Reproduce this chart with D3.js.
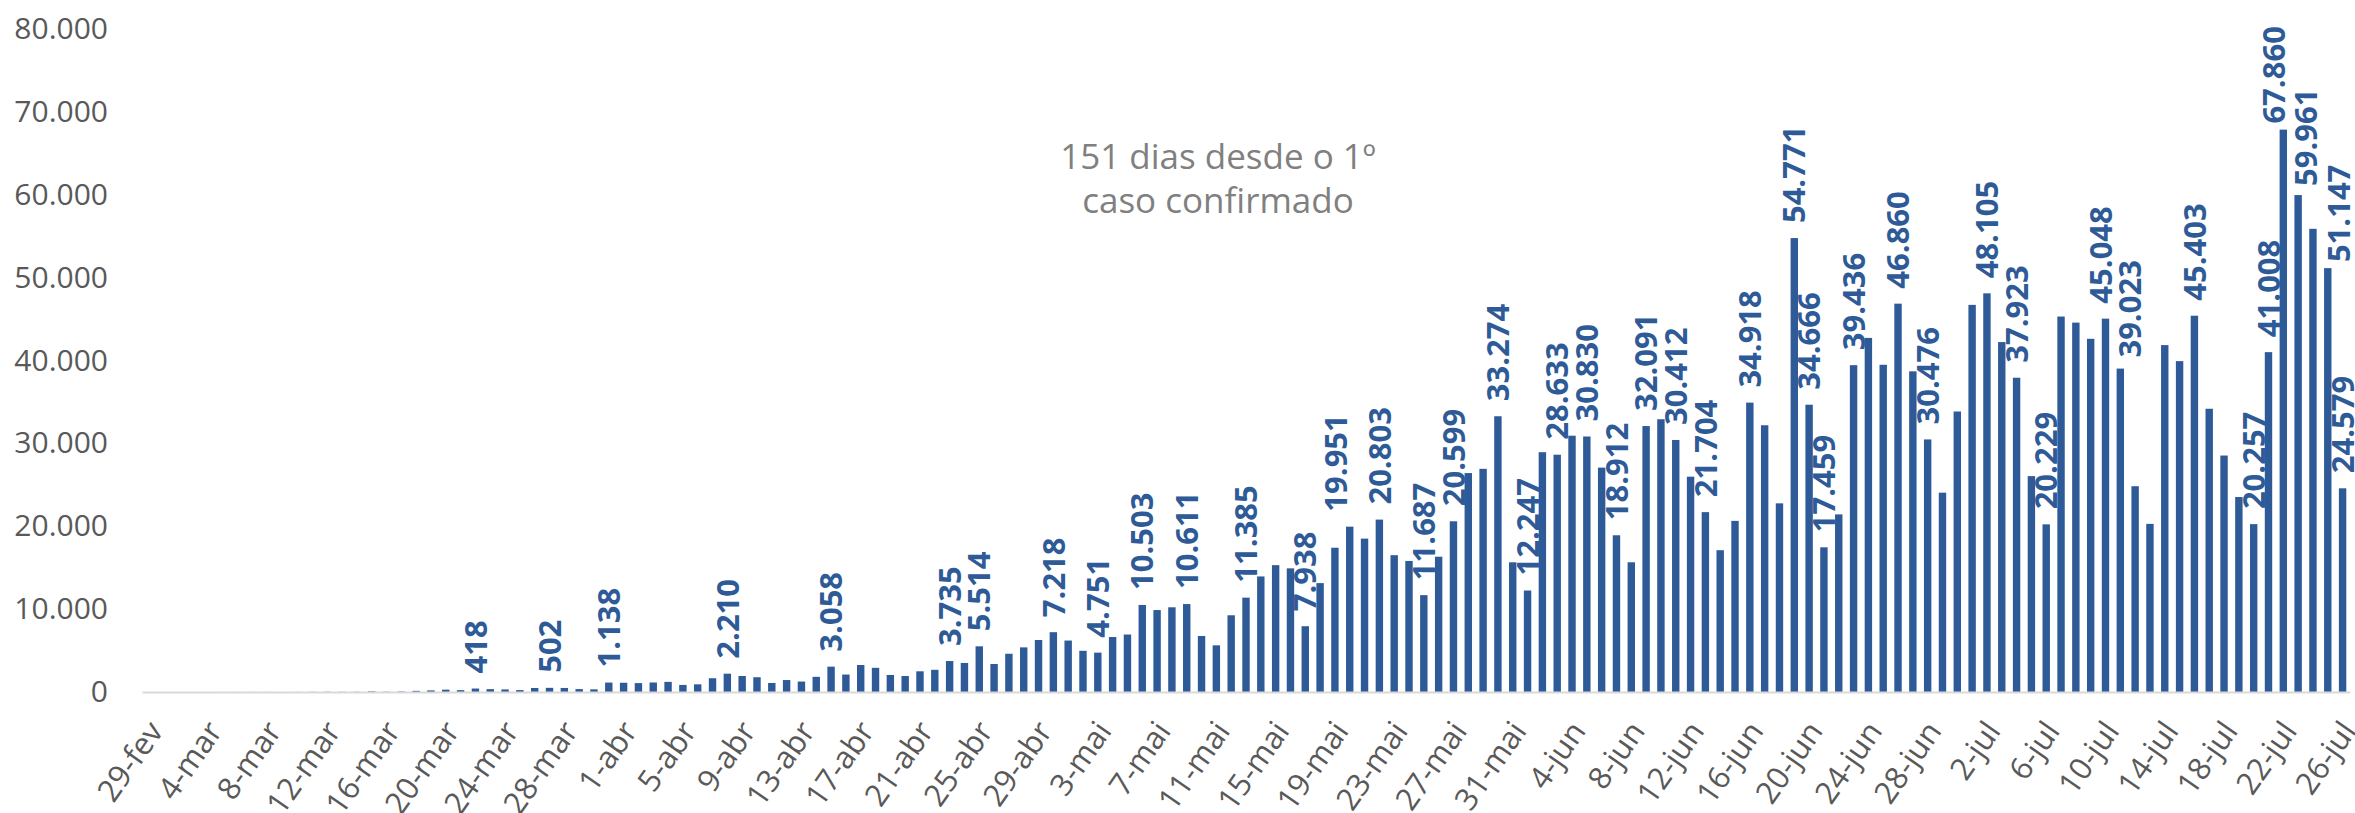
<!DOCTYPE html>
<html>
<head>
<meta charset="utf-8">
<script src="https://cdn.jsdelivr.net/npm/d3@7"></script>
<style>
  body { margin: 0; background: #fff; }
  svg { display: block; font-family: "Open Sans", sans-serif; }
</style>
</head>
<body>
<script>
// Casos novos por dia - Brasil (29-fev a 26-jul)

// ============================================
// DATA
// ============================================
const monthNames = ["jan", "fev", "mar", "abr", "mai", "jun", "jul"];
const days = d3.timeDay.range(new Date(2020, 1, 29), new Date(2020, 6, 27))
  .map(d => `${d.getDate()}-${monthNames[d.getMonth()]}`);

const casesFeb = [1];
const casesMar = [0, 0, 0, 1, 5, 5, 6, 6, 0, 9, 18, 25, 21, 23, 79, 34, 57, 137, 193, 283,
  224, 418, 345, 310, 232, 482, 502, 487, 352, 323, 1138];
const casesApr = [1117, 1074, 1146, 1222, 852, 926, 1661, 2210, 1930, 1781, 1089, 1442, 1261,
  1832, 3058, 2105, 3257, 2917, 2055, 1927, 2498, 2678, 3735, 3503, 5514, 3379, 4613, 5385,
  6276, 7218];
const casesMay = [6209, 4970, 4751, 6633, 6935, 10503, 9888, 10222, 10611, 6760, 5632, 9258,
  11385, 13944, 15305, 14919, 7938, 13140, 17408, 19951, 18508, 20803, 16508, 15813, 11687,
  16324, 20599, 26417, 26928, 33274, 15650];
const casesJun = [12247, 28936, 28633, 30925, 30830, 27075, 18912, 15654, 32091, 32913, 30412,
  25982, 21704, 17110, 20647, 34918, 32188, 22765, 54771, 34666, 17459, 21432, 39436, 42725,
  39483, 46860, 38693, 30476, 24052, 33846];
const casesJul = [46712, 48105, 42223, 37923, 26051, 20229, 45305, 44571, 42619, 45048, 39023,
  24831, 20286, 41857, 39924, 45403, 34177, 28532, 23529, 20257, 41008, 67860, 59961, 55891,
  51147, 24579];

const cases = [...casesFeb, ...casesMar, ...casesApr, ...casesMay, ...casesJun, ...casesJul];

// days that carry a value label
const labeledDays = ["22-mar", "27-mar", "31-mar", "8-abr", "15-abr", "23-abr", "25-abr",
  "30-abr", "3-mai", "6-mai", "9-mai", "13-mai", "17-mai", "20-mai", "22-mai", "25-mai",
  "27-mai", "30-mai", "1-jun", "3-jun", "5-jun", "7-jun", "9-jun", "11-jun", "13-jun",
  "16-jun", "19-jun", "20-jun", "21-jun", "23-jun", "26-jun", "28-jun", "2-jul", "4-jul",
  "6-jul", "10-jul", "11-jul", "16-jul", "20-jul", "21-jul", "22-jul", "23-jul", "25-jul",
  "26-jul"];

const tickLabels = ["29-fev", "4-mar", "8-mar", "12-mar", "16-mar", "20-mar", "24-mar",
  "28-mar", "1-abr", "5-abr", "9-abr", "13-abr", "17-abr", "21-abr", "25-abr", "29-abr",
  "3-mai", "7-mai", "11-mai", "15-mai", "19-mai", "23-mai", "27-mai", "31-mai", "4-jun",
  "8-jun", "12-jun", "16-jun", "20-jun", "24-jun", "28-jun", "2-jul", "6-jul", "10-jul",
  "14-jul", "18-jul", "22-jul", "26-jul"];

const yTicks = [0, 10000, 20000, 30000, 40000, 50000, 60000, 70000, 80000];

const note = ["151 dias desde o 1º", "caso confirmado"];

const data = days.map((d, i) => ({ day: d, value: cases[i] }));

// ============================================
// CHART
// ============================================
const W = 2355, H = 813;
const blue = "#2e5b97";

const svg = d3.select("body").append("svg")
  .attr("width", W)
  .attr("height", H);

const x = d3.scaleBand()
  .domain(days)
  .range([142, 2350])
  .paddingInner(0.5)
  .paddingOuter(0.25);

const y = d3.scaleLinear()
  .domain([0, 80000])
  .range([692, 29]);

const fmt = d3.formatLocale({ decimal: ",", thousands: ".", grouping: [3], currency: ["R$", ""] })
  .format(",d");

// Y axis (labels only)
const yAxis = svg.append("g")
  .attr("transform", "translate(142,0)")
  .call(d3.axisLeft(y).tickValues(yTicks).tickFormat(fmt).tickSize(0).tickPadding(34));
yAxis.select(".domain").remove();
yAxis.selectAll("text")
  .attr("font-size", 30)
  .attr("font-family", "Open Sans")
  .attr("fill", "#595959");

// Bars
svg.selectAll(".bar")
  .data(data)
  .enter()
  .append("rect")
  .attr("class", "bar")
  .attr("x", d => x(d.day))
  .attr("y", d => y(d.value))
  .attr("width", x.bandwidth())
  .attr("height", d => y(0) - y(d.value))
  .attr("fill", blue);

// X axis
const xAxis = svg.append("g")
  .attr("transform", `translate(0,${y(0)})`)
  .call(d3.axisBottom(x).tickValues(tickLabels).tickSize(0).tickSizeOuter(0));
xAxis.select(".domain")
  .attr("stroke", "#d9d9d9")
  .attr("stroke-width", 2);
xAxis.selectAll("text")
  .attr("x", 0)
  .attr("y", 0)
  .attr("dy", "0.35em")
  .attr("text-anchor", "end")
  .attr("transform", "translate(6,33) rotate(-55)")
  .attr("font-size", 31)
  .attr("font-family", "Open Sans")
  .attr("fill", "#595959");

// Value labels (a few were hand-moved in the original to avoid collisions)
const nudge = {
  "20-mai": [-14, 0], "10-jul": [-5, 0], "11-jul": [10, 4],
  "22-jul": [-9, 9], "23-jul": [8, 6], "25-jul": [11, 9]
};
const gap = 15;

svg.selectAll(".val")
  .data(data.filter(d => labeledDays.includes(d.day)))
  .enter()
  .append("text")
  .attr("class", "val")
  .attr("transform", d => {
    const [nx, ny] = nudge[d.day] || [0, 0];
    return `translate(${x(d.day) + x.bandwidth() / 2 + nx},${y(d.value) - gap + ny}) rotate(-90)`;
  })
  .attr("dy", "0.36em")
  .attr("text-anchor", "start")
  .attr("font-size", 31)
  .attr("font-weight", 700)
  .attr("fill", blue)
  .text(d => fmt(d.value));

// Annotation
svg.append("g")
  .selectAll("text")
  .data(note)
  .enter()
  .append("text")
  .attr("x", 1218)
  .attr("y", (d, i) => 169 + i * 44)
  .attr("text-anchor", "middle")
  .attr("font-size", 35)
  .attr("fill", "#808080")
  .text(d => d);
</script>
</body>
</html>
